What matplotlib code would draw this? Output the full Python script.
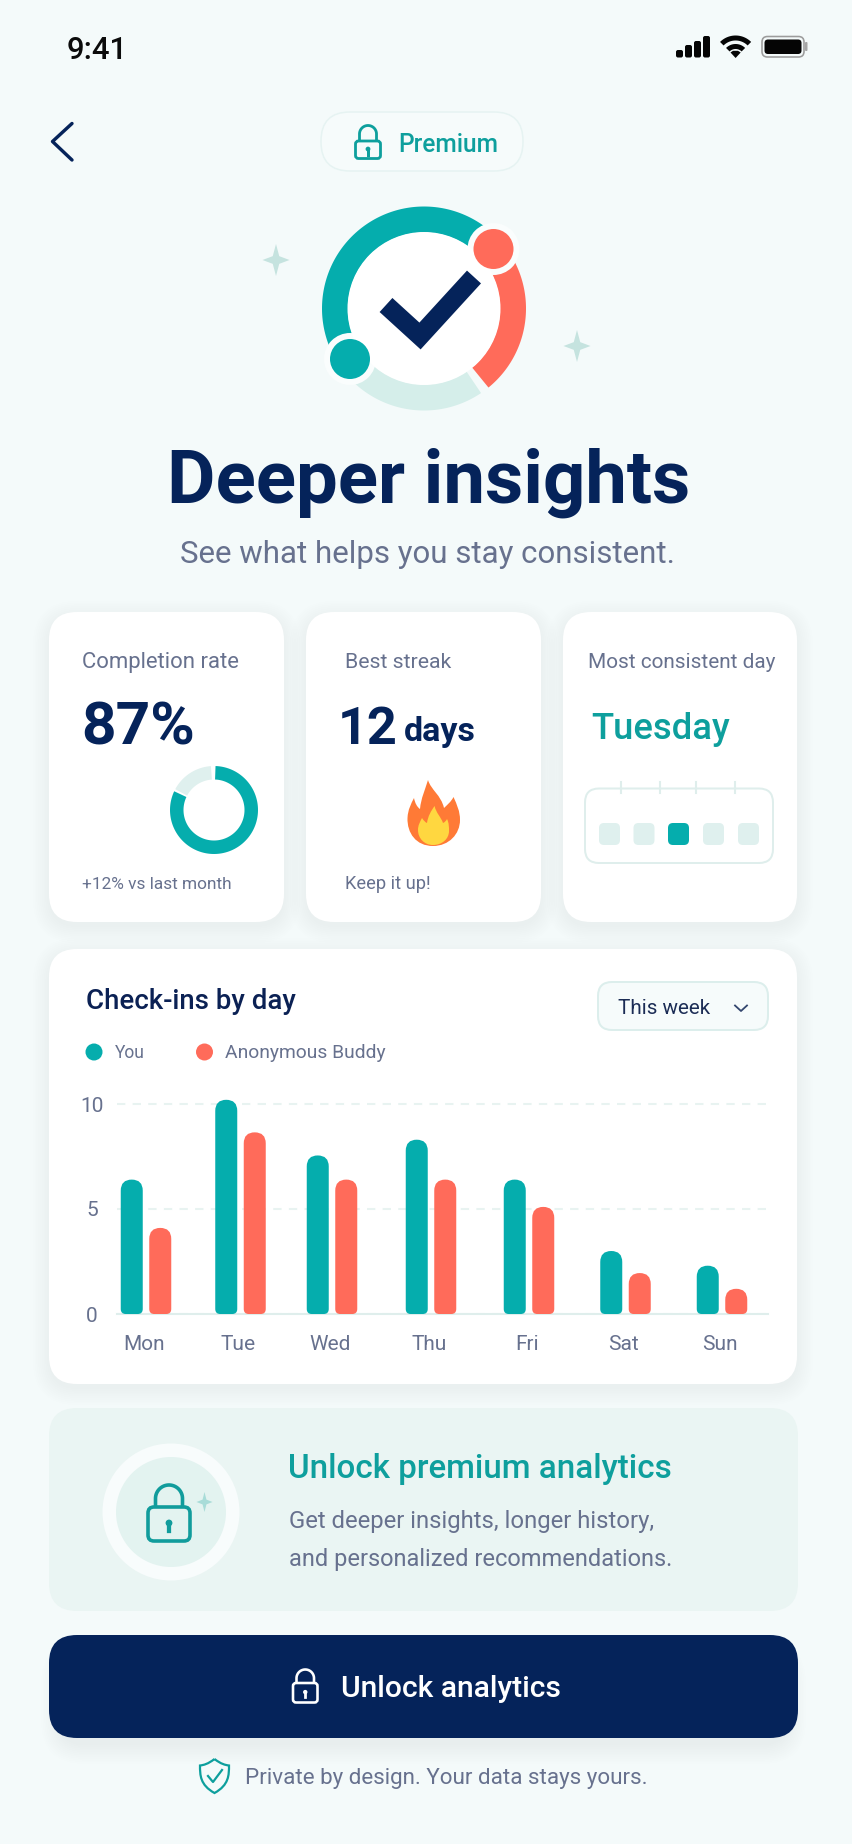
import numpy as np
from matplotlib import pyplot as plt
from matplotlib.patches import FancyBboxPatch, Circle, Polygon, PathPatch, Rectangle
from matplotlib.path import Path

# chart data
days = ['Mon', 'Tue', 'Wed', 'Thu', 'Fri', 'Sat', 'Sun']
you = [6.4, 10.2, 7.55, 8.3, 6.4, 3.0, 2.3]
buddy = [4.1, 8.65, 6.4, 6.4, 5.1, 1.95, 1.2]
y_ticks = [0, 5, 10]
series_names = ['You', 'Anonymous Buddy']
completion_drawn = 0.82   # the ring shows a bit less than the 87% in the label
week_dots = [0, 0, 1, 0, 0]

# layout (pixels in the 853x1844 picture)
day_x = np.array([146, 240.5, 332, 431, 529, 625.5, 722])
bar_w = 22
bar_gap = 6.5

BG = '#F4FAFA'
TEAL = '#05ADAD'
TEAL_TXT = '#0E9F9D'
CORAL = '#FF6B5A'
NAVY = '#05235A'
GREY = '#67718E'
MINT = '#D5EEEA'
LINE = '#DFEEEC'
FONT = 'Roboto'

fig = plt.figure(figsize=(8.53, 18.44), dpi=100, facecolor=BG)
ax = fig.add_axes([0, 0, 1, 1])
ax.set_xlim(0, 853)
ax.set_ylim(1844, 0)
ax.axis('off')
renderer = fig.canvas.get_renderer()


def txt(x, y, s, width, px=20, color=GREY, weight='normal', ha='left', target=None):
    # place on the baseline, then scale the font so the string is as wide as in the reference
    t = (target or ax).text(x, y, s, fontsize=px * 0.72, color=color, fontweight=weight,
                            family=FONT, ha=ha, va='baseline', zorder=10)
    w = t.get_window_extent(renderer).width
    t.set_fontsize(px * 0.72 * width / w)
    return t


def rrect(x0, y0, x1, y1, r, fc, ec='none', lw=0, z=2, alpha=None):
    p = FancyBboxPatch((x0, y0), x1 - x0, y1 - y0, boxstyle='round,pad=0,rounding_size=%f' % r,
                       fc=fc, ec=ec, lw=lw * 0.72, zorder=z, alpha=alpha)
    ax.add_patch(p)
    return p


def shadow(x0, y0, x1, y1, r, color='#8DB8B8', a=0.005, n=10, dy=5, step=1.8):
    for i in range(n):
        d = i * step
        rrect(x0 - d, y0 - d + dy, x1 + d, y1 + d + dy, r + d, color, z=1.5, alpha=a)


def band(cx, cy, r0, r1, a0, a1, color, z=3):
    # ring segment, angles as seen on screen (y axis here points down)
    a = np.radians(np.linspace(a0, a1, 120))
    outer = np.c_[cx + r1 * np.cos(a), cy - r1 * np.sin(a)]
    inner = np.c_[cx + r0 * np.cos(a[::-1]), cy - r0 * np.sin(a[::-1])]
    ax.add_patch(Polygon(np.r_[outer, inner], fc=color, ec='none', zorder=z))


def sparkle(cx, cy, hw, hh, color):
    k = 0.24
    verts = [(cx, cy - hh), (cx + hw * k, cy - hh * k), (cx + hw, cy), (cx + hw * k, cy + hh * k),
             (cx, cy + hh), (cx - hw * k, cy + hh * k), (cx - hw, cy), (cx - hw * k, cy - hh * k)]
    ax.add_patch(Polygon(verts, fc=color, ec='none', zorder=4))


def lock(x0, x1, sx0, sx1, top, body, bot, color, lw, r, hole_r):
    rrect(x0, body, x1, bot, r, 'none', ec=color, lw=lw, z=6)
    sr = (sx1 - sx0) / 2
    a = np.radians(np.linspace(180, 0, 40))
    xs = np.r_[sx0, (sx0 + sx1) / 2 + sr * np.cos(a), sx1]
    ys = np.r_[body, top + sr - sr * np.sin(a), body]
    ax.plot(xs, ys, color=color, lw=lw * 0.72, zorder=6, solid_capstyle='butt')
    mx, my = (x0 + x1) / 2, (body + bot) / 2
    ax.add_patch(Circle((mx, my - hole_r * 0.3), hole_r, fc=color, ec='none', zorder=6))
    ax.plot([mx, mx], [my, my + hole_r * 2], color=color, lw=hole_r * 0.9, zorder=6)


ax.add_patch(Rectangle((0, 0), 853, 1844, fc=BG, ec='none', zorder=0))

# status bar
txt(67, 59, '9:41', 61, px=31, color='#0B0B0B', weight='medium')
for x0, top in zip([676, 685, 694, 703], [50, 45, 41, 36]):
    rrect(x0, top, x0 + 7, 57.5, 2, '#050505', z=5)
band(735.6, 57.5, 17, 22, 45, 135, '#050505')
band(735.6, 57.5, 8.5, 13.5, 45, 135, '#050505')
ax.add_patch(Polygon([(735.6, 58), (730.5, 52.5), (733, 50.8), (738, 50.8), (740.7, 52.5)], fc='#050505', ec='none', zorder=5))
rrect(762, 36.5, 804, 57, 5.5, 'none', ec='#9C9C9C', lw=1.6, z=5)
rrect(764.5, 39.5, 801.5, 54, 3.5, '#050505', z=5)
rrect(805, 42, 807.5, 51, 1, '#A5A5A5', z=5)

# back and premium pill
ax.plot([72, 52.5, 72], [123.5, 141.5, 160], color=NAVY, lw=3.4 * 0.72, solid_capstyle='round',
        solid_joinstyle='round', zorder=5)
rrect(321, 112, 523, 171, 29, '#F6FBFB', ec='#E6F3F2', lw=1.5)
lock(355.5, 380.5, 359.5, 376.5, 125.5, 141, 158.5, TEAL_TXT, 2.8, 3, 2.4)
txt(398, 152, 'Premium', 100, px=25, color=TEAL_TXT, weight='medium')

# logo
ring_c = (424, 308.5)
band(*ring_c, 76, 102, 40, 214, TEAL)
band(*ring_c, 76, 102, -50.8, 40, CORAL)
band(*ring_c, 76, 102, -145, -56, MINT)
for c in [(493.5, 249), (350, 359)]:
    ax.add_patch(Circle(c, 26, fc='#FAFDFD', ec='none', zorder=3.5))
ax.add_patch(Circle(ring_c, 76.5, fc='white', ec='none', zorder=4))
for c, col in [((493.5, 249), CORAL), ((350, 359), TEAL)]:
    ax.add_patch(Circle(c, 20, fc=col, ec='none', zorder=6))
ax.plot([386, 420, 474], [305, 336, 277], color=NAVY, lw=19 * 0.72, solid_capstyle='butt',
        solid_joinstyle='miter', zorder=7)
sparkle(276, 260, 13.5, 16, '#C5E3DF')
sparkle(577, 346, 13.5, 16, '#C5E3DF')

txt(167, 503, 'Deeper insights', 523, px=75, color=NAVY, weight='bold')
txt(180, 563, 'See what helps you stay consistent.', 496, px=32)

# stat cards
for x0, x1 in [(49, 284), (306, 541), (563, 797)]:
    shadow(x0, 612, x1, 922, 28)
    rrect(x0, 612, x1, 922, 28, 'white')

txt(82.5, 668, 'Completion rate', 157.5, px=22)
txt(81, 744, '87%', 114, px=56, color=NAVY, weight='bold')
band(214, 810, 30.5, 44, 90 - 360 * completion_drawn, 88, TEAL)
band(214, 810, 30.5, 44, 94, 90 - 360 * completion_drawn + 357, '#DFF0EE')
txt(82.5, 889, '+12% vs last month', 150.5, px=18)

txt(345, 668, 'Best streak', 107, px=22)
txt(338, 744, '12', 60, px=56, color=NAVY, weight='bold')
txt(404, 741, 'days', 72, px=34, color=NAVY, weight='bold')
outer_flame = [(433, 846), (416, 846), (407, 833), (407.5, 818), (408, 809), (411, 804), (414, 798),
               (415, 803), (417, 807), (420, 809), (421, 798), (425, 790), (428, 780),
               (431, 790), (441, 795), (444, 808), (447, 805), (451, 802), (453.5, 797),
               (457, 805), (460, 811), (460, 820), (460, 834), (449, 846), (433, 846)]
inner_flame = [(433, 845), (424, 845), (418, 838), (418, 830), (418, 825), (420, 822), (422, 818),
               (424, 821), (425, 822), (427, 823), (428, 816), (431, 811), (434.6, 806),
               (436, 813), (441, 817), (443, 823), (445, 822), (446, 821), (447, 819),
               (449, 823), (449, 827), (449, 831), (449, 839), (442, 845), (433, 845)]
for verts, col, z in [(outer_flame, '#FF7A36', 5), (inner_flame, '#FFD740', 6)]:
    codes = [Path.MOVETO] + [Path.CURVE4] * (len(verts) - 1)
    ax.add_patch(PathPatch(Path(verts, codes), fc=col, ec='none', zorder=z))
txt(345, 889, 'Keep it up!', 85.5, px=18)

txt(588, 668, 'Most consistent day', 188, px=22)
txt(591, 739, 'Tuesday', 139, px=36, color=TEAL_TXT, weight='medium')
rrect(585, 788.5, 773, 863, 14, 'white', ec=LINE, lw=2, z=3)
for x in [621, 660, 696, 735]:
    ax.plot([x, x], [782, 793], color=LINE, lw=1.5, zorder=4)
for x0, on in zip([599, 633.5, 668, 703, 738], week_dots):
    rrect(x0, 823, x0 + 21, 845, 5, TEAL if on else '#DFF0EE', z=4)

# chart card
shadow(49, 949, 797, 1384, 28)
rrect(49, 949, 797, 1384, 28, 'white')
txt(86, 1009, 'Check-ins by day', 209, px=27, color='#0B2154', weight='medium')
rrect(598, 982, 768, 1030, 14, '#F6FBFB', ec='#DCEEEC', lw=2)
txt(618, 1014, 'This week', 92, px=22, color='#1B2C55')
ax.plot([735, 741, 747], [1005.5, 1011, 1005.5], color='#33466E', lw=1.3, zorder=6)
for cx, lx, lw_, name, col in [(94, 115, 30, series_names[0], TEAL), (204.5, 225, 160, series_names[1], CORAL)]:
    ax.add_patch(Circle((cx, 1052), 8.5, fc=col, ec='none', zorder=5))
    txt(lx, 1058, name, lw_, px=19)

# the bars sit on real axes: 21 px per check-in, x axis in picture pixels
px_per_unit = 21
ymax = 11
chart = fig.add_axes([117 / 853, 1 - 1314 / 1844, (768 - 117) / 853, ymax * px_per_unit / 1844])
chart.patch.set_visible(False)
chart.set_xlim(117, 768)
chart.set_ylim(0, ymax)
chart.set_axisbelow(True)
chart.yaxis.grid(True, color='#E8F3F1', lw=1.5, dashes=(4, 3.5))
chart.set_yticks(y_ticks)
chart.set_xticks(day_x - 2, days)
chart.tick_params(length=0)
chart.tick_params(axis='x', pad=15, labelsize=15, labelcolor=GREY)
chart.tick_params(axis='y', pad=18, labelsize=15, labelcolor=GREY)
for lab in chart.get_xticklabels() + chart.get_yticklabels():
    lab.set_family(FONT)
for lab in chart.get_yticklabels():
    lab.set_horizontalalignment('center')
for side in ['left', 'right', 'top']:
    chart.spines[side].set_visible(False)
chart.spines['bottom'].set_color(LINE)
chart.spines['bottom'].set_linewidth(1.5)


def round_bars(rects, color):
    # swap the square bars for pill shaped ones of the same size
    for rect in rects:
        x, w, h = rect.get_x(), rect.get_width(), rect.get_height()
        rt, rb = w / 2, 5
        ty, by = rt / px_per_unit, rb / px_per_unit
        verts = [(x, by), (x, h - ty), (x, h), (x + rt, h), (x + w, h), (x + w, h - ty),
                 (x + w, by), (x + w, 0), (x + w - rb, 0), (x + rb, 0), (x, 0), (x, by), (x, by)]
        codes = [Path.MOVETO, Path.LINETO, Path.CURVE3, Path.CURVE3, Path.CURVE3, Path.CURVE3,
                 Path.LINETO, Path.CURVE3, Path.CURVE3, Path.LINETO, Path.CURVE3, Path.CURVE3, Path.CLOSEPOLY]
        chart.add_patch(PathPatch(Path(verts, codes), fc=color, ec='none', zorder=3, clip_on=False))
        rect.set_visible(False)


offset = (bar_w + bar_gap) / 2
round_bars(chart.bar(day_x - offset, you, bar_w, color=TEAL), TEAL)
round_bars(chart.bar(day_x + offset, buddy, bar_w, color=CORAL), CORAL)

# upsell panel
rrect(49, 1408, 798, 1611, 28, '#EAF5F3')
shadow(103, 1443, 239, 1581, 68, a=0.004, n=5, dy=4)
ax.add_patch(Circle((171, 1512), 68.5, fc='#F8FCFC', ec='none', zorder=3))
ax.add_patch(Circle((171, 1512), 55, fc='#E3F3F0', ec='none', zorder=4))
lock(148, 190, 155.5, 182.5, 1485, 1507, 1541, '#119C9C', 3.6, 6, 3.4)
sparkle(204.5, 1502, 8, 10, '#A8DCD8')
txt(288, 1478, 'Unlock premium analytics', 384, px=32, color=TEAL_TXT, weight='medium')
txt(289, 1528, 'Get deeper insights, longer history,', 366, px=24)
txt(289, 1566, 'and personalized recommendations.', 383, px=24)

# button and footer
shadow(60, 1650, 787, 1736, 24, color='#7F9DA8', a=0.008, n=12, dy=9, step=1.7)
rrect(49, 1635, 798, 1738, 28, NAVY)
lock(293, 317.5, 296.5, 314, 1669.5, 1683, 1702.5, 'white', 2.6, 3, 2.2)
txt(341, 1697, 'Unlock analytics', 220, px=29, color='white', weight='medium')
shield = [(214.5, 1759), (221, 1764), (225, 1765), (229, 1765.5), (229, 1775), (229, 1785), (214.5, 1793),
          (200, 1785), (200, 1775), (200, 1765.5), (204, 1765), (208, 1764), (214.5, 1759)]
ax.add_patch(PathPatch(Path(shield, [Path.MOVETO] + [Path.CURVE4] * 12), fc='none', ec=TEAL_TXT, lw=1.6, zorder=5))
ax.plot([208, 213, 222], [1776, 1782, 1770], color=TEAL_TXT, lw=1.6, zorder=5)
txt(245, 1784, 'Private by design. Your data stays yours.', 404, px=22)

fig.savefig('out.png', dpi=100, facecolor=BG)
